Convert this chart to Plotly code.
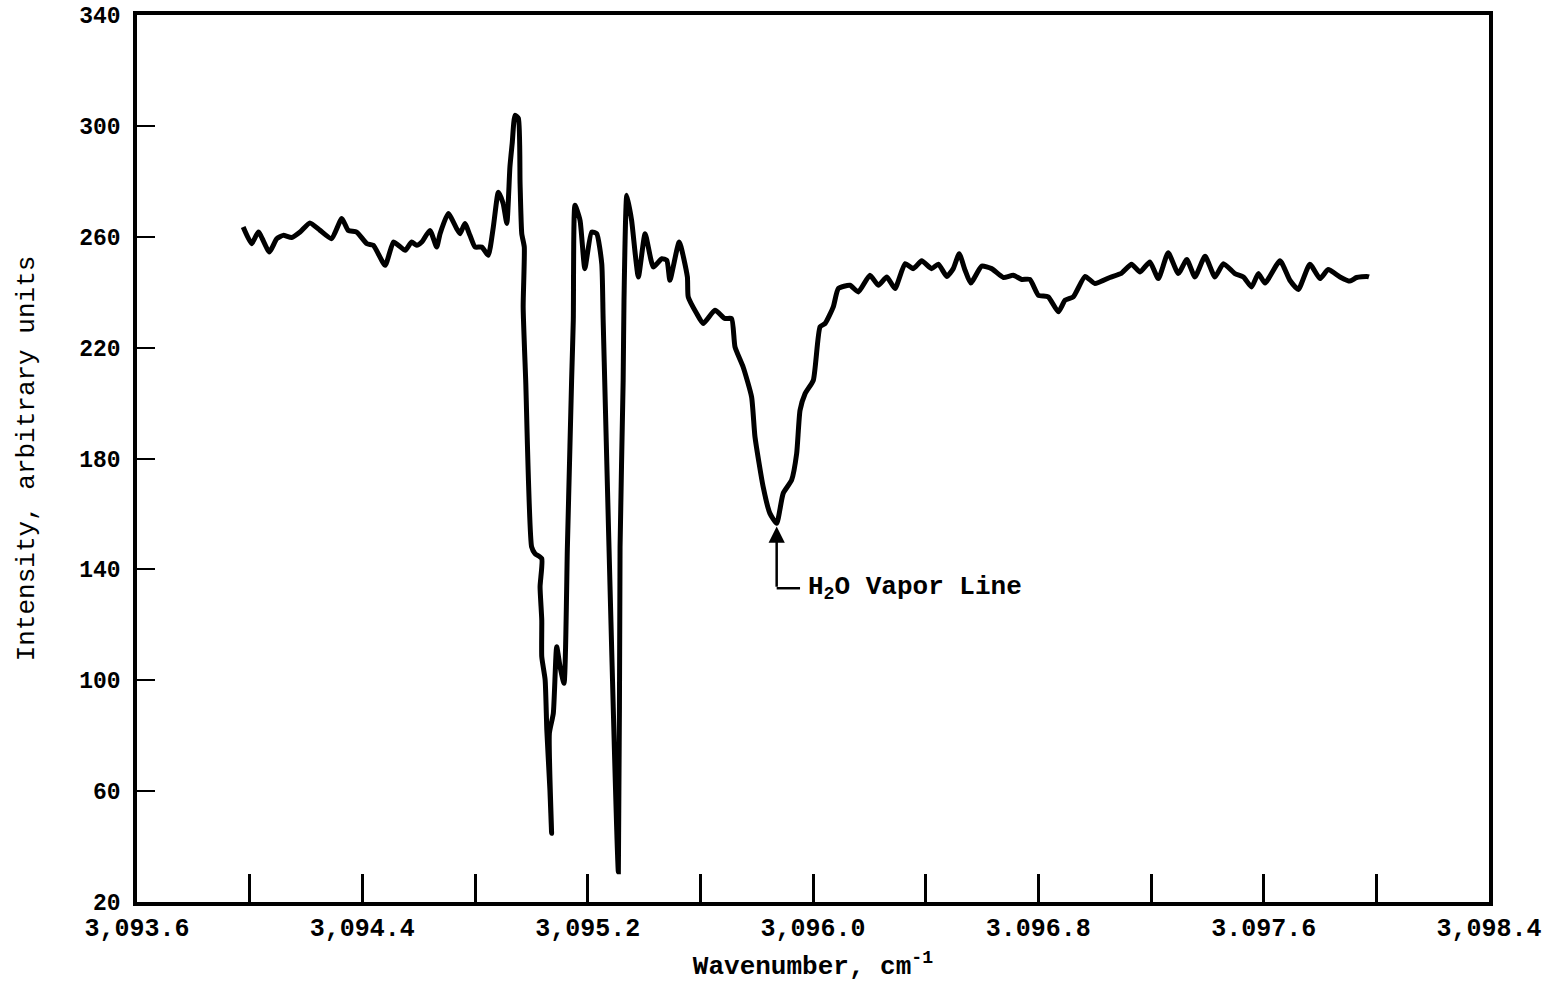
import plotly.graph_objects as go

# Wavenumber (cm^-1) and intensity (arbitrary units)
wavenumber = [
    3093.977, 3094.007, 3094.031, 3094.070, 3094.096, 3094.119, 3094.149, 3094.179, 3094.214, 3094.250,
    3094.291, 3094.327, 3094.350, 3094.380, 3094.416, 3094.439, 3094.481, 3094.510, 3094.528, 3094.552,
    3094.575, 3094.593, 3094.611, 3094.640, 3094.664, 3094.676, 3094.705, 3094.735, 3094.747, 3094.764,
    3094.782, 3094.800, 3094.824, 3094.847, 3094.865, 3094.883, 3094.900, 3094.913, 3094.924, 3094.932,
    3094.942, 3094.954, 3094.960, 3094.966, 3094.975, 3094.971, 3094.980, 3095.001, 3095.013, 3095.037,
    3095.031, 3095.037, 3095.037, 3095.049, 3095.055, 3095.066, 3095.072, 3095.064, 3095.078, 3095.090,
    3095.102, 3095.116, 3095.128, 3095.137, 3095.143, 3095.149, 3095.155, 3095.173, 3095.190, 3095.214,
    3095.232, 3095.250, 3095.255, 3095.309, 3095.315, 3095.326, 3095.329, 3095.339, 3095.356, 3095.380,
    3095.404, 3095.433, 3095.463, 3095.481, 3095.492, 3095.525, 3095.554, 3095.557, 3095.587, 3095.610,
    3095.652, 3095.687, 3095.711, 3095.723, 3095.752, 3095.782, 3095.794, 3095.823, 3095.847, 3095.871,
    3095.894, 3095.924, 3095.942, 3095.954, 3095.972, 3096.001, 3096.025, 3096.043, 3096.072, 3096.090,
    3096.131, 3096.161, 3096.202, 3096.232, 3096.262, 3096.291, 3096.327, 3096.356, 3096.386, 3096.421,
    3096.445, 3096.475, 3096.498, 3096.519, 3096.540, 3096.560, 3096.599, 3096.634, 3096.676, 3096.711,
    3096.741, 3096.770, 3096.800, 3096.835, 3096.871, 3096.895, 3096.924, 3096.966, 3097.001, 3097.054,
    3097.096, 3097.131, 3097.161, 3097.196, 3097.226, 3097.261, 3097.297, 3097.327, 3097.356, 3097.392,
    3097.427, 3097.457, 3097.498, 3097.528, 3097.557, 3097.581, 3097.605, 3097.658, 3097.693, 3097.723,
    3097.764, 3097.800, 3097.829, 3097.871, 3097.906, 3097.930, 3097.966, 3097.974,
]
intensity = [
    263.5, 257.5, 261.7, 254.5, 259.3, 260.5, 259.7, 261.7, 265.0, 262.3,
    259.3, 266.6, 262.3, 261.7, 257.5, 256.9, 249.7, 258.1, 256.9, 255.1,
    258.1, 256.9, 258.1, 262.3, 256.3, 261.1, 268.4, 262.9, 261.1, 264.8,
    260.5, 256.3, 256.3, 253.3, 263.5, 276.1, 272.0, 264.8, 285.2, 293.6,
    303.8, 302.7, 279.2, 261.1, 256.3, 234.7, 208.2, 148.1, 145.7, 143.9,
    133.7, 121.7, 108.5, 100.1, 82.0, 60.4, 44.8, 80.8, 88.0, 112.1,
    104.9, 98.9, 148.1, 184.2, 208.2, 229.9, 271.4, 265.9, 248.5, 261.7,
    261.1, 250.3, 229.9, 30.9, 148.1, 208.2, 237.1, 275.0, 265.9, 245.5,
    261.1, 249.1, 252.1, 251.5, 244.3, 258.1, 245.5, 238.3, 232.3, 228.7,
    233.5, 230.5, 230.5, 220.3, 213.0, 202.2, 187.8, 169.8, 160.2, 156.6,
    167.4, 172.2, 181.8, 197.4, 203.4, 208.2, 227.5, 228.7, 234.7, 241.3,
    242.5, 240.1, 246.1, 242.5, 245.5, 241.3, 250.3, 248.5, 251.3, 248.5,
    250.1, 245.7, 248.5, 253.9, 247.9, 243.3, 249.4, 248.5, 245.3, 246.1,
    244.6, 244.6, 238.9, 238.3, 232.9, 237.1, 238.3, 245.7, 243.1, 245.3,
    246.9, 250.1, 247.3, 250.9, 244.9, 254.2, 246.7, 251.8, 245.5, 253.0,
    245.5, 250.3, 246.7, 245.5, 241.9, 246.7, 243.3, 251.3, 244.3, 241.0,
    250.1, 244.9, 248.2, 245.5, 244.0, 245.3, 245.7, 245.5,
]

# Axis ticks
x_label_vals = [3093.6, 3094.4, 3095.2, 3096.0, 3096.8, 3097.6, 3098.4]
x_label_text = ["3,093.6", "3,094.4", "3,095.2", "3,096.0", "3.096.8", "3.097.6", "3,098.4"]
x_minor_vals = [3094.0, 3094.8, 3095.6, 3096.4, 3097.2, 3098.0]
y_tick_vals = [20, 60, 100, 140, 180, 220, 260, 300, 340]

# Annotation: H2O vapor line minimum
line_min_x = 3095.871
line_min_y = 155.5
leader_y = 133.2
leader_end_x = 3095.954
label_x = 3095.975

FONT = "Liberation Mono"

fig = go.Figure()
fig.add_trace(go.Scatter(
    x=wavenumber, y=intensity, mode="lines",
    line=dict(color="black", width=5, shape="spline", smoothing=0.5),
    hoverinfo="skip", showlegend=False,
))

# arrow pointing up to the minimum
fig.add_annotation(
    x=line_min_x, y=line_min_y, ax=line_min_x, ay=leader_y,
    xref="x", yref="y", axref="x", ayref="y",
    text="", showarrow=True, arrowhead=2, arrowsize=1.3, arrowwidth=2.5, arrowcolor="black",
)
fig.add_shape(type="line", x0=line_min_x, y0=leader_y, x1=leader_end_x, y1=leader_y,
              xref="x", yref="y", line=dict(color="black", width=2.5))
fig.add_annotation(
    x=label_x, y=leader_y, xref="x", yref="y", xanchor="left", yanchor="middle",
    text="<b>H<sub>2</sub>O Vapor Line</b>", showarrow=False,
    font=dict(family=FONT, size=26, color="black"),
)

fig.update_layout(
    width=1555, height=982,
    paper_bgcolor="white", plot_bgcolor="white",
    margin=dict(l=137, r=66, t=15, b=80, autoexpand=False),
    font=dict(family=FONT, color="black"),
    xaxis=dict(
        range=[3093.6, 3098.4], tickmode="array", tickvals=x_label_vals, ticktext=x_label_text,
        ticks="inside", ticklen=28, tickwidth=2.5, tickcolor="black",
        minor=dict(tickmode="array", tickvals=x_minor_vals, ticks="inside", ticklen=28,
                   tickwidth=2.5, tickcolor="black", showgrid=False),
        showline=True, linewidth=3.5, linecolor="black", mirror=True,
        showgrid=False, zeroline=False,
        tickfont=dict(family=FONT, size=25, color="black", weight="bold"),
        ticklabelstandoff=0,
        title=dict(text="<b>Wavenumber, cm<sup>-1</sup></b>", standoff=26,
                   font=dict(family=FONT, size=26, color="black")),
    ),
    yaxis=dict(
        range=[20, 340], tickmode="array", tickvals=y_tick_vals,
        ticks="inside", ticklen=18, tickwidth=2, tickcolor="black",
        showline=True, linewidth=3.5, linecolor="black", mirror=True,
        showgrid=False, zeroline=False,
        tickfont=dict(family=FONT, size=23, color="black", weight="bold"),
        ticklabelstandoff=8,
        title=dict(text="Intensity, arbitrary units", standoff=38,
                   font=dict(family=FONT, size=26, color="black")),
    ),
)

fig.write_html("out.html", config={"displayModeBar": False},
               post_script="document.body.style.margin='0';")
